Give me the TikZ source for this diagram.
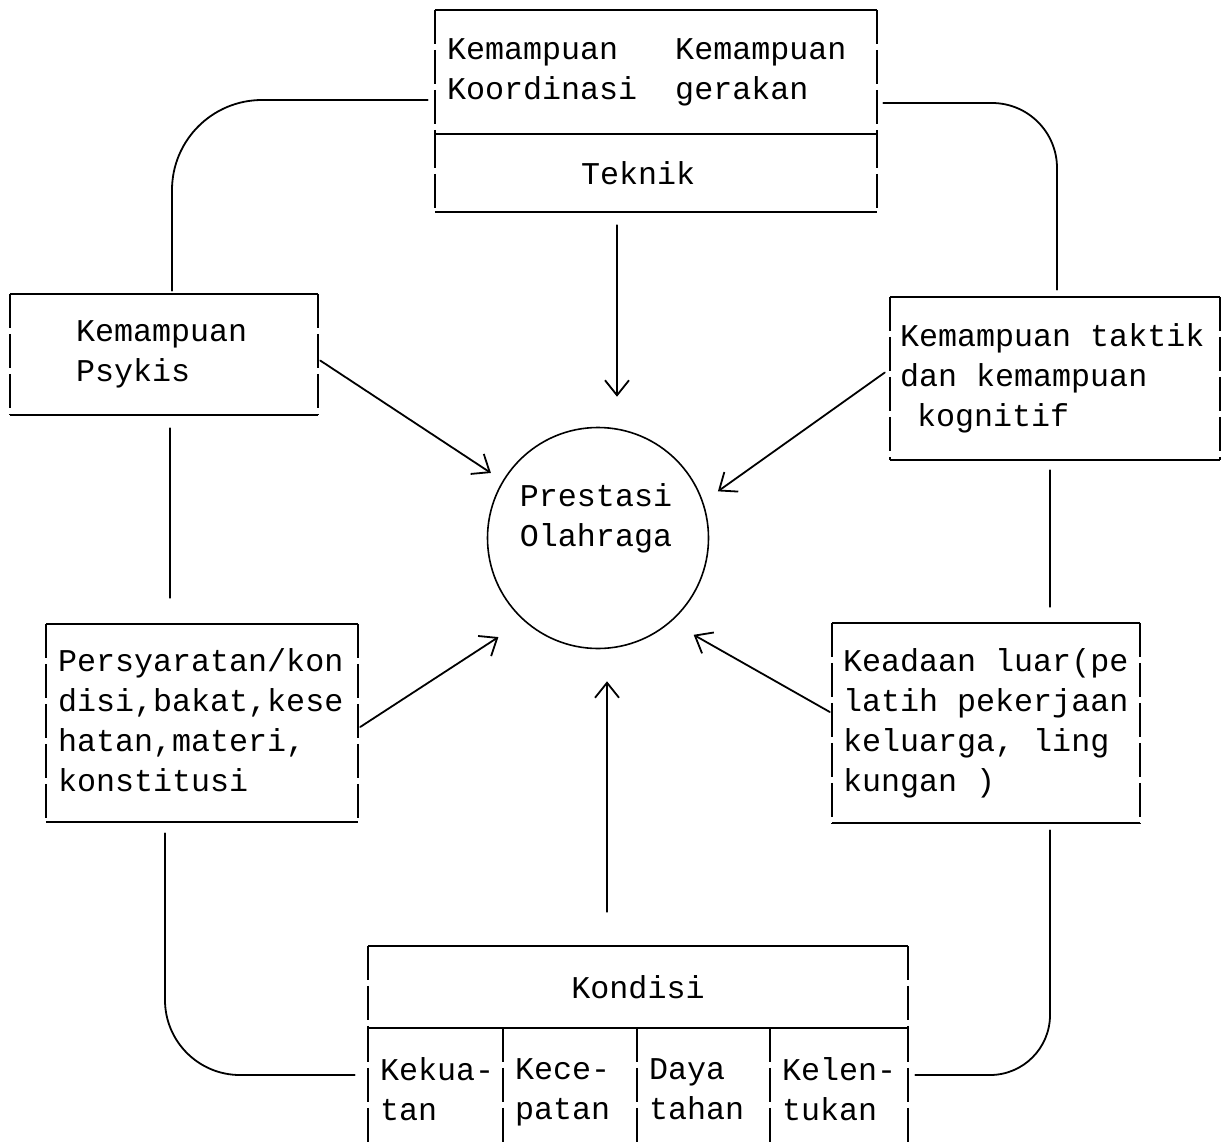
\documentclass[tikz,border=0pt]{standalone}
\usepackage{fontspec}
\newfontfamily\dotfont{Liberation Mono}
\usetikzlibrary{arrows.meta,calc}

% one fixed character cell of blank, as on a typewriter
\newcommand\tsp{\hspace{0.6em}}
% a typed line with a uniform height and depth
\newcommand\tline[1]{\mbox{\vphantom{Kp}#1}}

\tikzset{
  ln/.style={line width=1.8pt, line cap=round},
  hside/.style={line width=1.8pt},
  vside/.style={line width=1.8pt, dash pattern=on 34pt off 6pt},
  arr/.style={ln, -{Straight Barb[length=15pt,width=24pt]}},
  txt/.style={font=\dotfont\fontsize{31.7}{40}\selectfont, align=left,
              inner ysep=0pt, anchor=center},
}

% four sides of a typed box: solid rules across, broken rules down
\newcommand\boxsides[1]{%
  \draw[hside] (#1.north west) -- (#1.north east);
  \draw[hside] (#1.south west) -- (#1.south east);
  \draw[vside] (#1.north west) -- (#1.south west);
  \draw[vside] (#1.north east) -- (#1.south east);}

\begin{document}
\begin{tikzpicture}[x=1pt,y=1pt]
\useasboundingbox (0,0) rectangle (1223,-1148);
\fill[white] (0,0) rectangle (1223,-1148);

% Teknik block
\node[txt, inner xsep=12pt, text width=418pt, minimum height=124pt] (tek1) at (656,-72)
  {\tline{Kemampuan\tsp\tsp\tsp Kemampuan}\\\tline{Koordinasi\tsp\tsp gerakan}};
\node[txt, inner xsep=12pt, text width=418pt, minimum height=78pt] (tek2) at (656,-173)
  {\hspace*{134pt}Teknik};
\boxsides{tek1}
\boxsides{tek2}

% side boxes
\node[txt, inner xsep=66pt, text width=176pt, minimum height=121pt] (psy) at (164,-354.5)
  {\tline{Kemampuan}\\\tline{Psykis}};
\boxsides{psy}

\node[txt, inner xsep=10pt, text width=310pt, minimum height=163pt] (tac) at (1055,-378.5)
  {\tline{Kemampuan\tsp taktik}\\\tline{dan\tsp kemampuan}\\\hspace*{17pt}\tline{kognitif}};
\boxsides{tac}

\node[txt, inner xsep=12pt, text width=288pt, minimum height=198pt] (pers) at (202,-723)
  {\tline{Persyaratan/kon}\\\tline{disi,bakat,kese}\\\tline{hatan,materi,}\\\tline{konstitusi}};
\boxsides{pers}

\node[txt, inner xsep=11pt, text width=286pt, minimum height=200pt] (kead) at (986,-723)
  {\tline{Keadaan\tsp luar(pe}\\\tline{latih\tsp pekerjaan}\\\tline{keluarga,\tsp ling}\\\tline{kungan\tsp)}};
\boxsides{kead}

% Kondisi block
\node[txt, align=center, inner xsep=0pt, minimum width=540pt, minimum height=82pt] (kon) at (638,-987)
  {Kondisi};
\boxsides{kon}

\node[txt, inner xsep=12pt, text width=111pt, minimum height=128pt] (k1) at (435.5,-1092) {\tline{Kekua-}\\\tline{tan}};
\node[txt, inner xsep=12pt, text width=110pt, minimum height=128pt] (k2) at (570,-1092) {\tline{Kece-}\\\tline{patan}};
\node[txt, inner xsep=12pt, text width=109pt, minimum height=128pt] (k3) at (703.5,-1092) {\tline{Daya}\\\tline{tahan}};
\node[txt, inner xsep=12pt, text width=114pt, minimum height=128pt] (k4) at (839,-1092) {\tline{Kelen-}\\\tline{tukan}};
\foreach \c in {k1,k2,k3,k4} {\draw[vside] (\c.north west) -- (\c.south west);}
\draw[vside] (k4.north east) -- (k4.south east);

% centre
\node[circle, draw, line width=1.6pt, minimum size=221pt, inner sep=0pt] (circ) at (598,-538) {};
\node[txt, align=center] (pres) at (596,-518) {Prestasi\\Olahraga};

% arrows into the centre
\draw[arr] ([xshift=-39pt,yshift=-13pt]tek2.south) -- ([xshift=19pt,yshift=30pt]circ.north);
\draw[arr, shorten >=14pt] ([xshift=2pt,yshift=-6pt]psy.east) -- (circ.149);
\draw[arr, shorten >=18pt] ([xshift=-5pt,yshift=6pt]tac.west) -- (circ.19);
\draw[arr, shorten >=30pt] ([xshift=2pt,yshift=-4pt]pers.east) -- (circ.228);
\draw[arr, shorten >=26pt] ([xshift=-2pt,yshift=11pt]kead.west) -- (circ.-49);
\draw[arr] ([xshift=-31pt,yshift=34pt]kon.north) -- ([xshift=9pt,yshift=-32pt]circ.south);

% ring of plain links
\draw[ln, rounded corners=90pt] ([xshift=-7pt,yshift=-28pt]tek1.west) -| ([xshift=8pt,yshift=3pt]psy.north);
\draw[ln, rounded corners=65pt] ([xshift=6pt,yshift=-31pt]tek1.east) -| ([xshift=2pt,yshift=7pt]tac.north);
\draw[ln] ([xshift=6pt,yshift=-13pt]psy.south) -- ([xshift=-32pt,yshift=26pt]pers.north);
\draw[ln] ([xshift=-5pt,yshift=-10pt]tac.south) -- ([xshift=64pt,yshift=16pt]kead.north);
\draw[ln, rounded corners=75pt] ([xshift=-37pt,yshift=-11pt]pers.south) |- ([xshift=-13pt,yshift=17pt]k1.west);
\draw[ln, rounded corners=60pt] ([xshift=64pt,yshift=-7pt]kead.south) |- ([xshift=7pt,yshift=17pt]k4.east);
\end{tikzpicture}
\end{document}
